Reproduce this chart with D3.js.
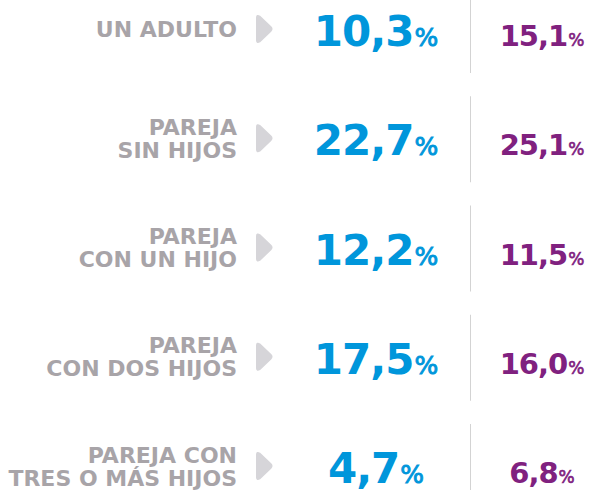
<!DOCTYPE html>
<html>
<head>
<meta charset="utf-8">
<script src="https://cdn.jsdelivr.net/npm/d3@7"></script>
<style>
  body { margin: 0; background: #fff; }
  svg { display: block; }
</style>
</head>
<body>
<script>
// household types (two-line labels), share of population in two series
var categories = [
  ["UN ADULTO"],
  ["PAREJA", "SIN HIJOS"],
  ["PAREJA", "CON UN HIJO"],
  ["PAREJA", "CON DOS HIJOS"],
  ["PAREJA CON", "TRES O MÁS HIJOS"]
];
var seriesA = [10.3, 22.7, 12.2, 17.5, 4.7];
var seriesB = [15.1, 25.1, 11.5, 16.0, 6.8];

var width = 592, height = 490;
var blue = "#0096db", purple = "#80217f", grey = "#a8a4a8", arrowGrey = "#d6d5d9";
var font = "'DejaVu Sans', sans-serif";

var svg = d3.select("body").append("svg")
    .attr("width", width)
    .attr("height", height);

var y = d3.scalePoint()
    .domain(d3.range(categories.length))
    .range([29, 466]);

var fmt = function (v) { return d3.format(".1f")(v).replace(".", ","); };

var rows = svg.selectAll("g.row")
    .data(categories)
    .enter().append("g")
    .attr("class", "row")
    .attr("transform", function (d, i) { return "translate(0," + y(i) + ")"; });

// labels, right aligned
rows.append("text")
    .attr("text-anchor", "end")
    .style("font-family", font)
    .style("font-weight", 700)
    .style("font-size", "22px")
    .style("fill", grey)
    .selectAll("tspan")
    .data(function (d) { return d; })
    .enter().append("tspan")
    .attr("x", 237)
    .attr("y", function (d, i, n) { return (i - (n.length - 1) / 2) * 23 + 8; })
    .text(function (d) { return d; });

// little rounded arrow
rows.append("path")
    .attr("d", "M257,-11.5 Q257,-14 259.5,-12.5 L270.5,-2 Q272.5,0 270.5,2 L259.5,12.5 Q257,14 257,11.5 Z")
    .style("fill", arrowGrey)
    .style("stroke", arrowGrey)
    .style("stroke-width", 2)
    .style("stroke-linejoin", "round");

// divider
rows.append("line")
    .attr("x1", 470.5).attr("x2", 470.5)
    .attr("y1", -42).attr("y2", 44)
    .style("stroke", "#d3d3d3")
    .style("stroke-width", 1);

function valueText(sel, values, x, size, color) {
  var t = sel.append("text")
      .attr("x", x)
      .attr("y", 17)
      .attr("text-anchor", "middle")
      .style("font-family", font)
      .style("font-weight", 700)
      .style("font-size", size + "px")
      .style("letter-spacing", "-1px")
      .style("fill", color);
  t.append("tspan").text(function (d, i) { return fmt(values[i]); });
  t.append("tspan")
      .attr("dx", 1)
      .style("font-size", Math.round(size * 0.6) + "px")
      .style("font-weight", 400)
      .style("stroke", color)
      .style("stroke-width", size > 35 ? 0.9 : 0.6)
      .style("letter-spacing", "0px")
      .text("%");
}

valueText(rows, seriesA, 376, 42, blue);
valueText(rows, seriesB, 542, 29, purple);
</script>
</body>
</html>
